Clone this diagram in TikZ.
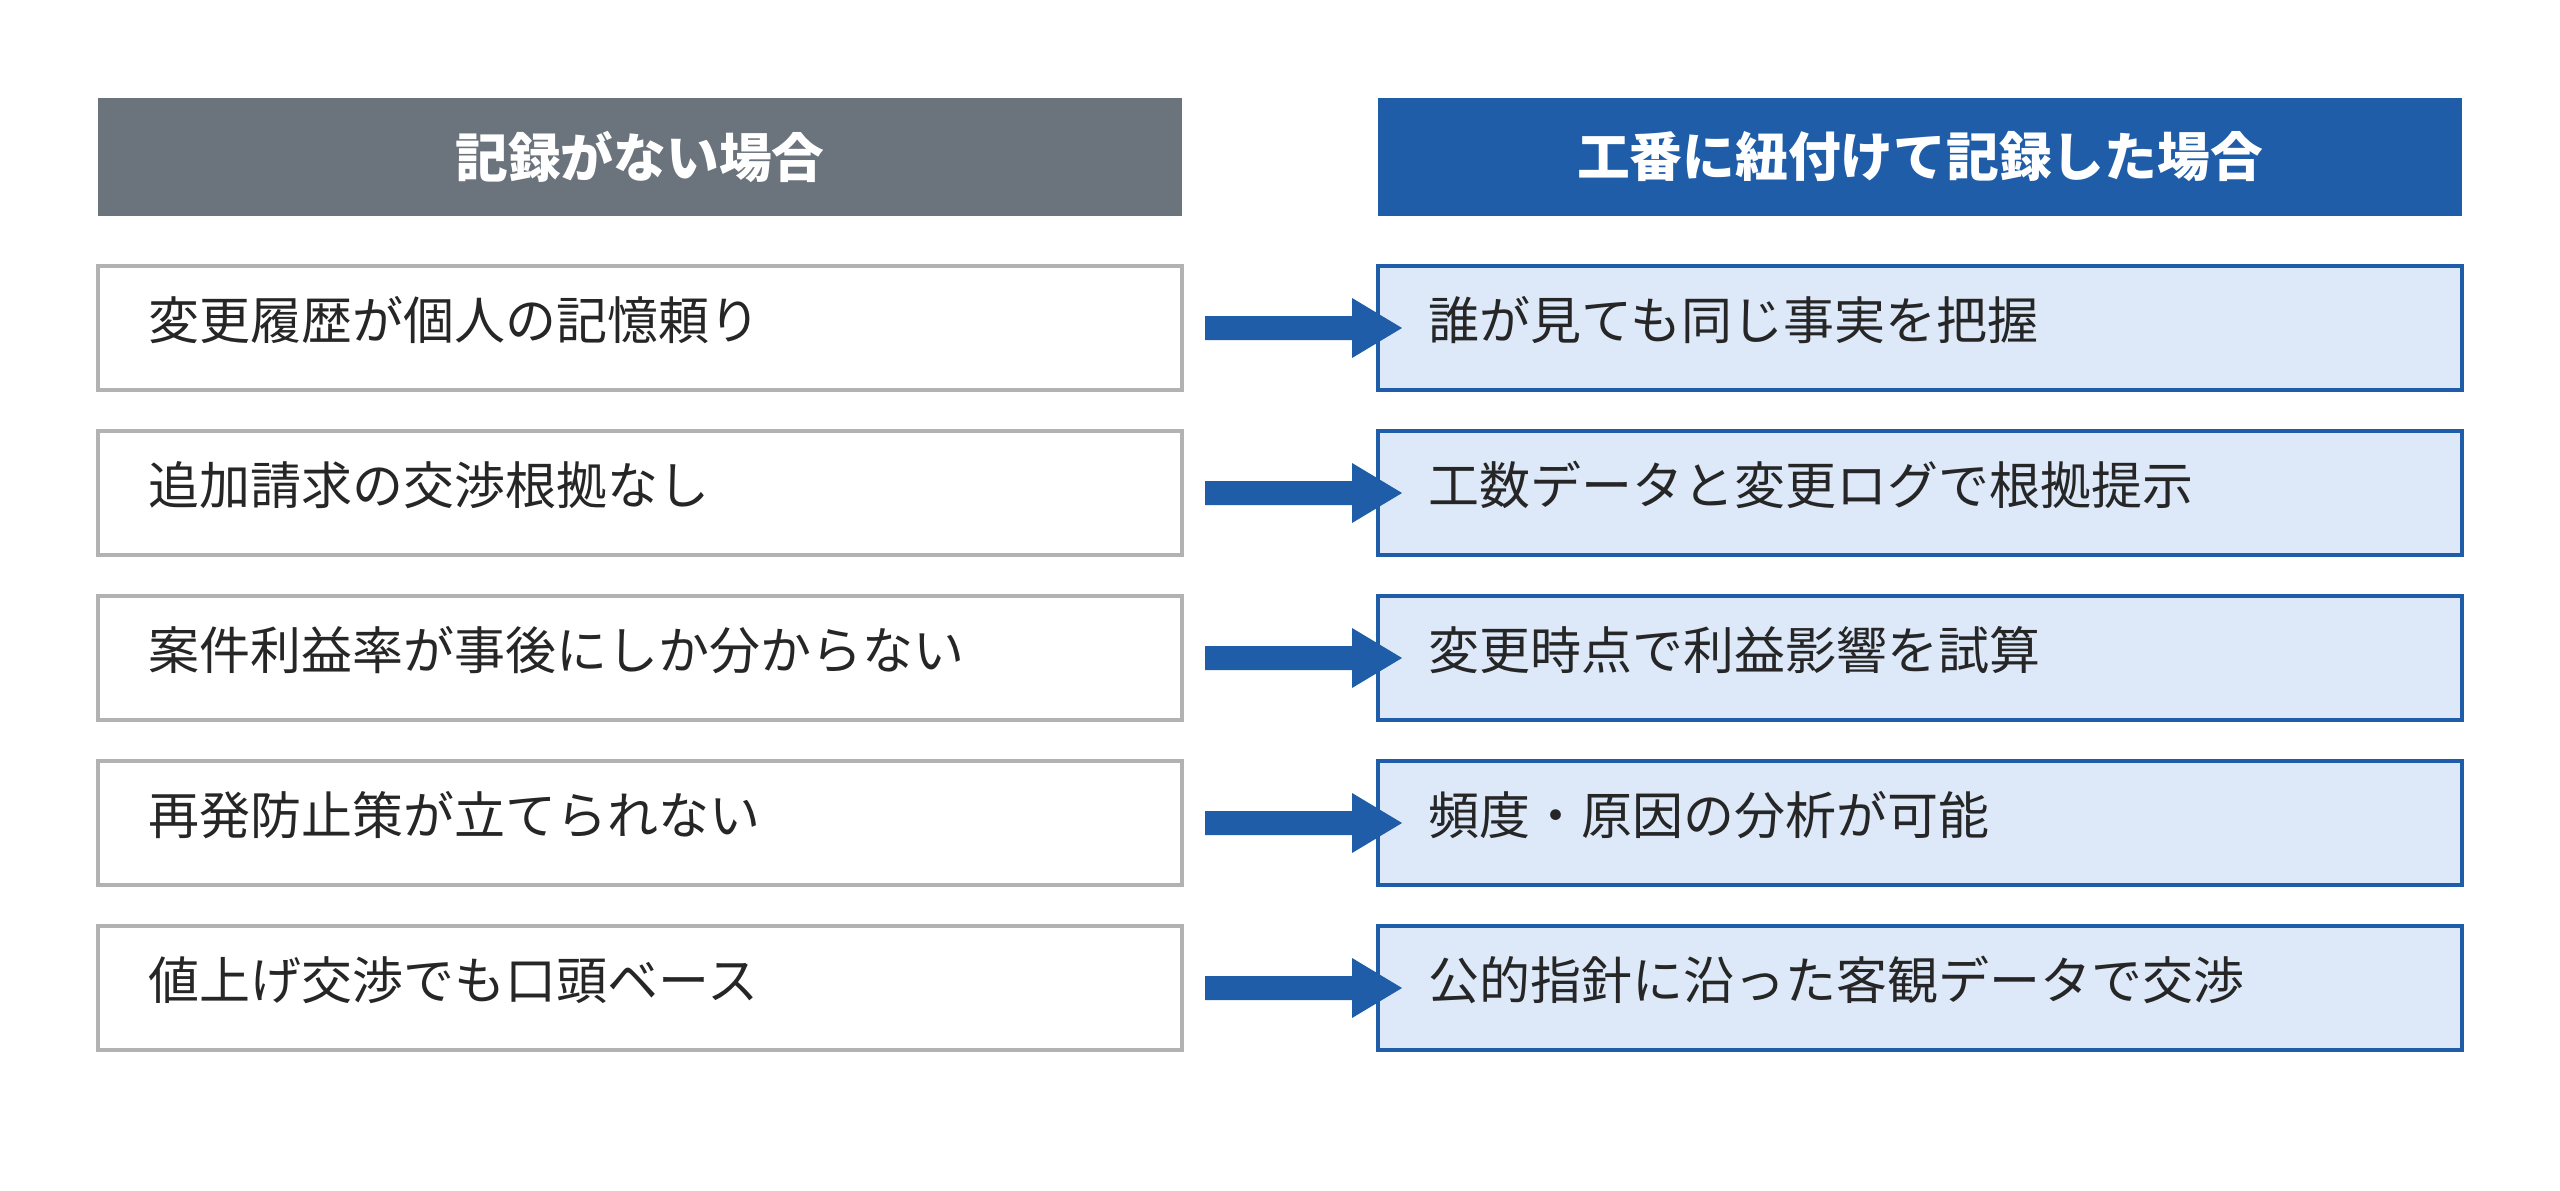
\documentclass[tikz,border=0pt]{standalone}
\usepackage{fontspec}
\setmainfont{Noto Sans CJK JP}
\begin{document}
\begin{tikzpicture}[x=0.01cm,y=-0.01cm,
 hdr/.style={minimum width=10.84cm,minimum height=1.18cm,inner sep=0pt,text=white,font=\fontsize{15}{18}\selectfont\bfseries},
 lbox/.style={draw=gray!60,line width=1.1pt,fill=white,minimum width=10.84cm,minimum height=1.24cm,inner sep=0pt},
 rbox/.style={lbox,draw=myblue,fill=lightblue},
 txt/.style={anchor=west,font=\fontsize{14.5}{17}\selectfont,text=black!85,inner sep=0pt},
 arr/.style={fill=myblue,draw=none}]
\definecolor{myblue}{HTML}{1F5DA8}
\definecolor{lightblue}{HTML}{DDE9F8}
\definecolor{hgray}{HTML}{6B737C}
\useasboundingbox (0,0) rectangle (2560,1191);
\node[hdr,fill=hgray] (hl) at (640,157) {記録がない場合};
\node[hdr,fill=myblue] (hr) at (1920,157) {工番に紐付けて記録した場合};
\foreach \i/\a/\b in {0/変更履歴が個人の記憶頼り/誰が見ても同じ事実を把握,
 1/追加請求の交渉根拠なし/工数データと変更ログで根拠提示,
 2/案件利益率が事後にしか分からない/変更時点で利益影響を試算,
 3/再発防止策が立てられない/頻度・原因の分析が可能,
 4/値上げ交渉でも口頭ベース/公的指針に沿った客観データで交渉}{
 \pgfmathsetmacro\yy{328+165*\i}
 \node[lbox] (l\i) at (640,\yy) {};
 \node[rbox] (r\i) at (1920,\yy) {};
 \node[txt] (lt\i) at (148,\yy-8) {\a};
 \node[txt] (rt\i) at (1428,\yy-8) {\b};
 \fill[arr] (1205,\yy-12) -- (1352,\yy-12) -- (1352,\yy-30) -- (1402,\yy) -- (1352,\yy+30) -- (1352,\yy+12) -- (1205,\yy+12) -- cycle;
}
\end{tikzpicture}
\end{document}
